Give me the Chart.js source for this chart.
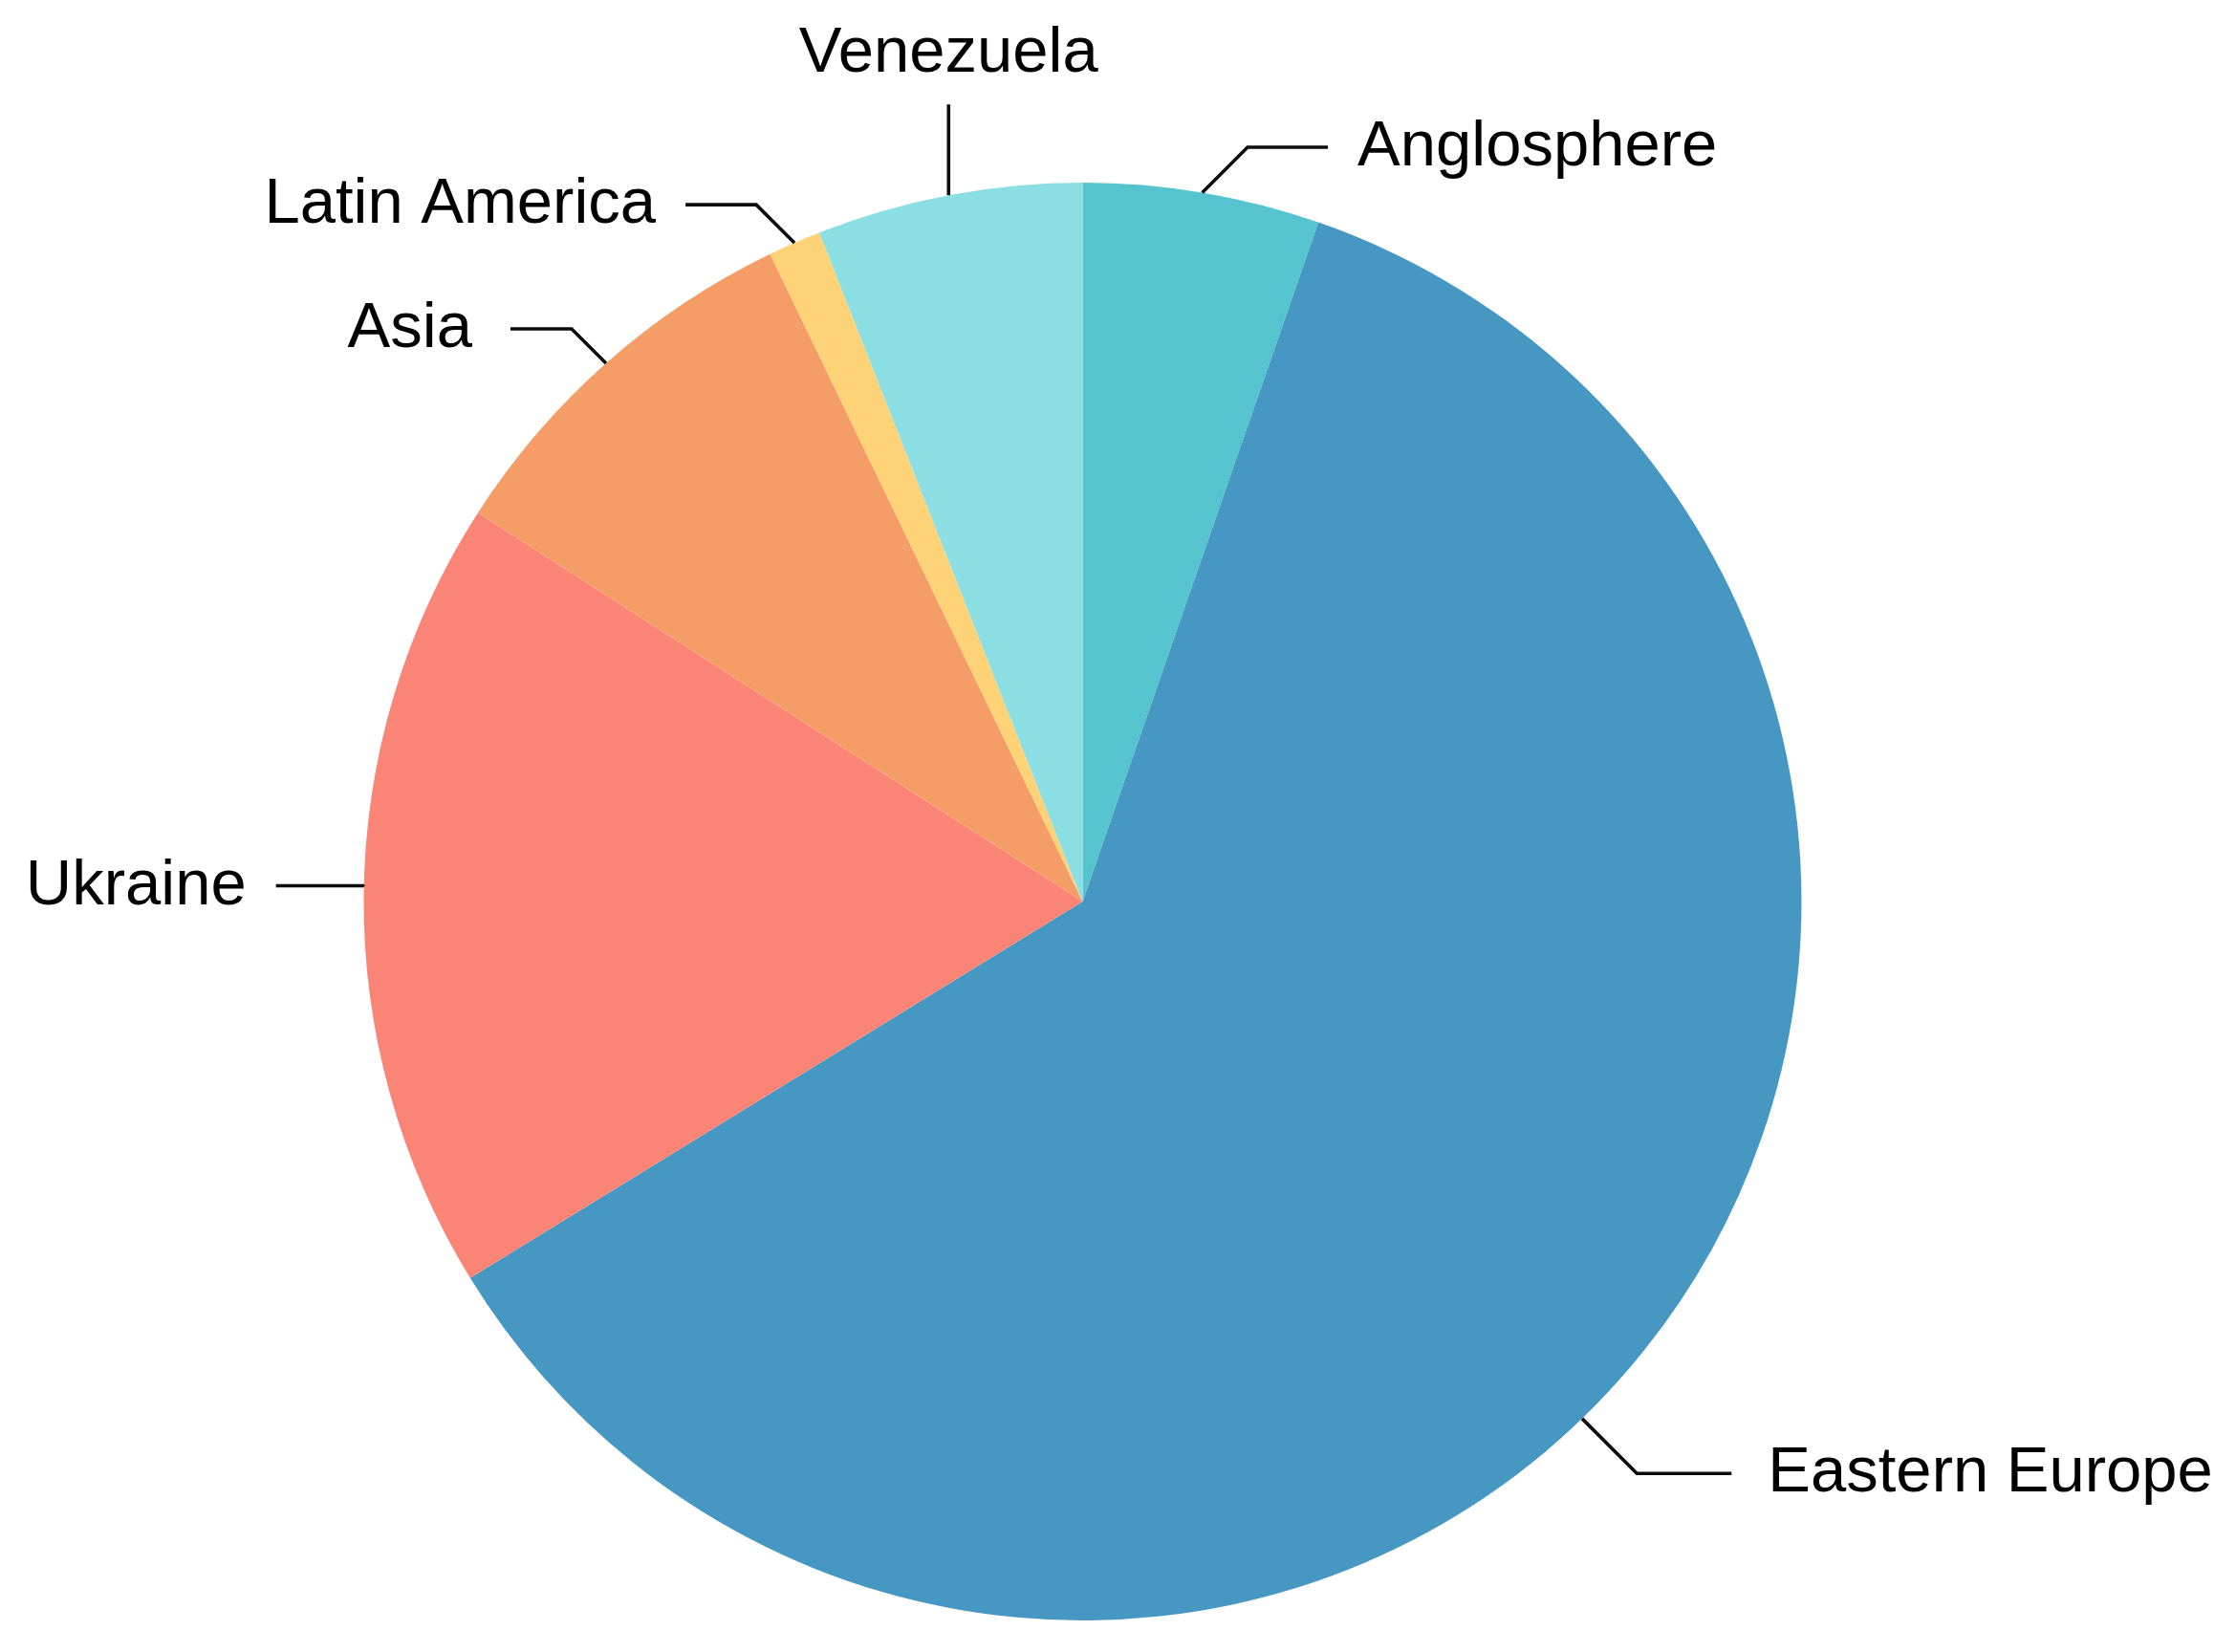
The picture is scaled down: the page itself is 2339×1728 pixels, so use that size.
<!DOCTYPE html>
<html>
<head>
<meta charset="utf-8">
<title>Pie chart</title>
<script src="https://cdn.jsdelivr.net/npm/chart.js@4/dist/chart.umd.min.js"></script>
<style>
    html, body { margin: 0; padding: 0; background: #ffffff; }
    #wrap { width: 2339px; height: 1728px; }
</style>
</head>
<body>
<div id="wrap"><canvas id="pie-chart" width="2339" height="1728"></canvas></div>
<script>
// slice order: clockwise from 12 o'clock
const regions = ['Anglosphere', 'Eastern Europe', 'Ukraine', 'Asia', 'Latin America', 'Venezuela'];
const shares = [5.32, 60.91, 17.86, 8.75, 1.19, 5.97];
const sliceColors = ['#55c4cf', '#4698c3', '#fa8577', '#f59d66', '#fed277', '#8bdfe2'];

// how each outside label hangs off its slice
const labelLayout = {
    'Anglosphere':    { side: true, radius: 1.064, run: 84 },
    'Eastern Europe': { side: true, radius: 1.106, run: 99, shift: 7.2, gap: 38 },
    'Ukraine':        { side: true, radius: 1.065, run: 91, shift: 0.6 },
    'Asia':           { side: true, radius: 1.064, run: 64, gap: 40 },
    'Latin America':  { side: true, radius: 1.058, run: 74 },
    'Venezuela':      { side: false, rise: 95, gap: 34 }
};

const LABEL_FONT = '67px "Liberation Sans", Arial, sans-serif';
const TEXT_GAP = 31;

const leaderLabels = {
    id: 'leaderLabels',
    afterDraw(chart) {
        const ctx = chart.ctx;
        const arcs = chart.getDatasetMeta(0).data;
        ctx.save();
        ctx.font = LABEL_FONT;
        ctx.fillStyle = '#000000';
        ctx.strokeStyle = '#0d0d0d';
        ctx.lineWidth = 3.6;
        ctx.lineJoin = 'miter';

        arcs.forEach((arc, i) => {
            const name = chart.data.labels[i];
            const cfg = labelLayout[name] || { side: true, radius: 1.065, run: 80 };
            const p = arc.getProps(['x', 'y', 'startAngle', 'endAngle', 'outerRadius'], true);
            const mid = (p.startAngle + p.endAngle) / 2 + (cfg.shift || 0) * Math.PI / 180;
            const ax = p.x + p.outerRadius * Math.cos(mid);
            const ay = p.y + p.outerRadius * Math.sin(mid);

            if (!cfg.side) {
                // straight up, text centred above
                const top = ay - cfg.rise;
                ctx.beginPath();
                ctx.moveTo(ax, ay);
                ctx.lineTo(ax, top);
                ctx.stroke();
                ctx.textAlign = 'center';
                ctx.textBaseline = 'alphabetic';
                ctx.fillText(name, ax, top - cfg.gap);
                return;
            }

            const dir = Math.cos(mid) >= 0 ? 1 : -1;
            const ly = p.y + p.outerRadius * cfg.radius * Math.sin(mid);
            const ex = ax + dir * Math.abs(ly - ay);
            const hx = ex + dir * cfg.run;

            ctx.beginPath();
            ctx.moveTo(ax, ay);
            ctx.lineTo(ex, ly);
            ctx.lineTo(hx, ly);
            ctx.stroke();

            ctx.textAlign = dir > 0 ? 'left' : 'right';
            ctx.textBaseline = 'alphabetic';
            ctx.fillText(name, hx + dir * (cfg.gap || TEXT_GAP), ly + 19);
        });
        ctx.restore();
    }
};

document.addEventListener('DOMContentLoaded', () => {
    const canvas = document.getElementById('pie-chart');

    new Chart(canvas.getContext('2d'), {
        type: 'pie',
        data: {
            labels: regions,
            datasets: [{
                data: shares,
                backgroundColor: sliceColors,
                borderWidth: 0,
                hoverOffset: 0
            }]
        },
        options: {
            responsive: false,
            animation: false,
            devicePixelRatio: 1,
            rotation: 0,
            layout: {
                padding: { top: 191, bottom: 33, left: 379, right: 453 }
            },
            plugins: {
                legend: { display: false },
                tooltip: { enabled: false }
            }
        },
        plugins: [leaderLabels]
    });
});
</script>
</body>
</html>
